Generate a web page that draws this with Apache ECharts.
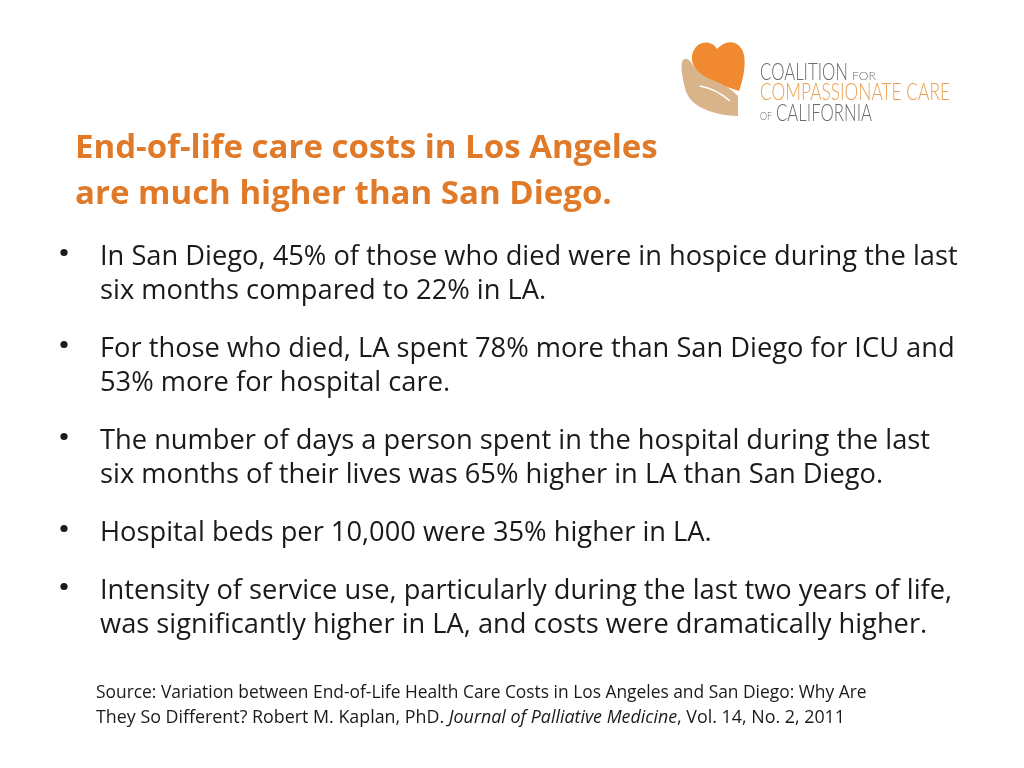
<!DOCTYPE html>
<html><head><meta charset="utf-8">
<script src="https://cdn.jsdelivr.net/npm/echarts@6/dist/echarts.min.js"></script>
<style>html,body{margin:0;padding:0;background:#fff}#c{width:1024px;height:768px}</style>
</head><body><div id="c"></div>
<script>
const titleLines = ["End-of-life care costs in Los Angeles", "are much higher than San Diego."];
const bullets = [
  ["In San Diego, 45% of those who died were in hospice during the last", "six months compared to 22% in LA."],
  ["For those who died, LA spent 78% more than San Diego for ICU and", "53% more for hospital care."],
  ["The number of days a person spent in the hospital during the last", "six months of their lives was 65% higher in LA than San Diego."],
  ["Hospital beds per 10,000 were 35% higher in LA."],
  ["Intensity of service use, particularly during the last two years of life,", "was significantly higher in LA, and costs were dramatically higher."]
];
const sourceLine1 = "Source: Variation between End-of-Life Health Care Costs in Los Angeles and San Diego: Why Are";
const sourceLine2 = ["They So Different? Robert M. Kaplan, PhD. ", "Journal of Palliative Medicine", ", Vol. 14, No. 2, 2011"];
const logoWords = ["COALITION", "FOR", "COMPASSIONATE CARE", "OF", "CALIFORNIA"];

// ---- layout helpers ----
const FONT = '"Open Sans", sans-serif';
const LOGOFONT = 'Lato, "Open Sans", sans-serif';
const ctx = document.createElement('canvas').getContext('2d');
function measure(text, font) { ctx.font = font; return ctx.measureText(text).width; }
function fitSize(text, weight, family, target) {
  const w = measure(text, weight + ' 100px ' + family);
  return 100 * target / w;
}
const titleSize = fitSize(titleLines[0], 'bold', FONT, 583);
const bodySize = fitSize(bullets[0][0], 'normal', FONT, 858);
const srcSize = fitSize(sourceLine1, 'normal', FONT, 771);
const srcFont = srcSize.toFixed(2) + 'px ' + FONT;
const src2Width = measure(sourceLine2[0], srcFont) + measure(sourceLine2[1], 'italic ' + srcFont) + measure(sourceLine2[2], srcFont);

const g = [];
const titleTop = [132, 178];
titleLines.forEach((t, i) => g.push({type:'text', x:75, y:titleTop[i],
  style:{text:t, fill:'#E07A28', font:'bold ' + titleSize.toFixed(2) + 'px ' + FONT}}));
const bulletBase = [261, 353, 445, 537, 595];
bullets.forEach((lines, i) => {
  g.push({type:'circle', shape:{cx:64, cy:bulletBase[i]-8.5, r:3.6}, style:{fill:'#1a1a1a'}});
  lines.forEach((t, j) => g.push({type:'text', x:100, y:bulletBase[i] - 17 + j*33.5,
    style:{text:t, fill:'#1a1a1a', font:bodySize.toFixed(2) + 'px ' + FONT}}));
});
g.push({type:'text', x:96, y:685, style:{text:sourceLine1, fill:'#1a1a1a', font:srcFont}});
g.push({type:'text', x:96, y:710, scaleX:(845 - 96) / src2Width, style:{
  text:'{n|' + sourceLine2[0] + '}{i|' + sourceLine2[1] + '}{n|' + sourceLine2[2] + '}',
  rich:{n:{fill:'#1a1a1a', font:srcFont}, i:{fill:'#1a1a1a', font:'italic ' + srcFont}}}});

// ---- logo ----
const HeartShape = echarts.graphic.extendPath('M717,49 C712,40 698,40 693,52 C689,62 696,72 706,78 C718,84 730,88 739,91 C743,80 746,66 744,55 C742,44 730,36 717,49 Z', {});
const HandShape = echarts.graphic.extendPath('M683,60 C680,64 682,76 685,88 C688,104 708,115 738,116 L738,96 C732,90 724,84 712,80 C704,77 698,72 692,64 C690,60 686,57 683,60 Z', {});
echarts.graphic.registerShape('logoHeart', HeartShape);
echarts.graphic.registerShape('logoHand', HandShape);
g.push({type:'logoHeart', style:{fill:'#F0892F'}});
g.push({type:'logoHand', style:{fill:'#D9B48A'}});
g.push({type:'bezierCurve', shape:{x1:700, y1:86, cpx1:712, cpy1:88, cpx2:722, cpy2:94, x2:730, y2:101}, style:{stroke:'#fff', lineWidth:1.6, fill:null}});
// logo word boxes: [left, right, top, size, colour]
const logoBoxes = [
  [760, 848, 60, 24, '#6b6b6b'],
  [852, 876, 70, 12, '#6b6b6b'],
  [760, 950, 80, 24, '#E9A050'],
  [760, 772, 110, 12, '#6b6b6b'],
  [776, 872, 101, 24, '#6b6b6b']
];
logoWords.forEach((w, i) => {
  const b = logoBoxes[i];
  const f = '300 ' + b[3] + 'px ' + LOGOFONT;
  const sx = (b[1] - b[0]) / measure(w, f);
  g.push({type:'text', x:b[0], y:b[2], scaleX:sx, style:{text:w, fill:b[4], font:f}});
});

const chart = echarts.init(document.getElementById('c'));
chart.setOption({backgroundColor:'#fff', animation:false, graphic:g});
</script></body></html>
